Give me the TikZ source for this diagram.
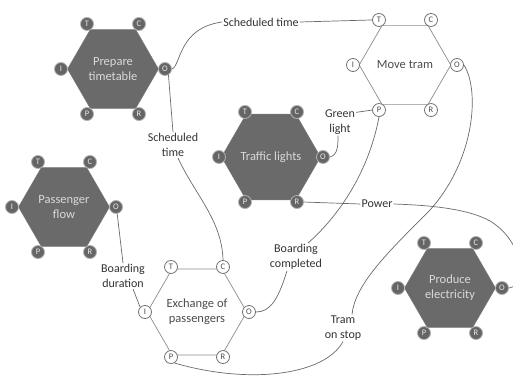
\documentclass[tikz,border=0pt]{standalone}
\usepackage{fontspec}
\setmainfont{Carlito}
\usetikzlibrary{shapes.geometric,calc}

\definecolor{hexdark}{HTML}{6A6A6A}
\definecolor{hexline}{HTML}{8C8C8C}
\definecolor{wireclr}{HTML}{6A6A6A}
\definecolor{labelclr}{HTML}{333333}

\tikzset{
  fnbox/.style={regular polygon, regular polygon sides=6, minimum size=91pt,
    inner sep=0pt, align=center, font=\fontsize{12.5}{15}\selectfont},
  darkhex/.style={fnbox, fill=hexdark, draw=hexdark!90!white, text=white!85!black},
  lighthex/.style={fnbox, fill=white, draw=hexline, line width=0.7pt, text=black!70},
  aspbox/.style={circle, minimum size=13pt, inner sep=0pt, line width=0.8pt,
    font=\fontsize{8.5}{9}\selectfont},
  darkasp/.style={aspbox, fill=hexdark!95!black, draw=white!70!black, text=white!92!black},
  lightasp/.style={aspbox, fill=white, draw=black!55, text=black!70},
  wire/.style={draw=wireclr, line width=0.7pt},
  flowlabel/.style={align=center, inner sep=1pt, text=labelclr,
    font=\fontsize{12}{15}\selectfont}
}

% A FRAM function: hexagon with its six aspects T, C, O, R, P, I
\newcommand\framfn[4]{%
  \node[#2hex] (#1) at (#3) {#4};
  \foreach \asp/\ang in {O/0,R/60,P/120,I/180,T/240,C/300}
    \node[#2asp] (#1-\asp) at ($(#1)+(\ang:52)$) {\asp};
}

\begin{document}
\begin{tikzpicture}[x=1pt,y=-1pt]
  \useasboundingbox (0,0) rectangle (513,377);
  \clip (0,0) rectangle (513,377);
  \fill[white] (0,0) rectangle (513,377);

  % functions
  \framfn{pt}{dark}{113,69}{Prepare\\timetable}
  \framfn{mt}{light}{405,65}{Move tram}
  \framfn{tl}{dark}{271,157}{Traffic lights}
  \framfn{pf}{dark}{64,207}{Passenger\\flow}
  \framfn{ep}{light}{197,312}{Exchange of\\passengers}
  \framfn{pe}{dark}{450,288}{Produce\\electricity}

  % couplings labels
  \node[flowlabel] (st1) at (261,22) {Scheduled time};
  \node[flowlabel] (st2) at (173,145) {Scheduled\\time};
  \node[flowlabel] (gl) at (340,122) {Green\\light};
  \node[flowlabel] (bc) at (296,257) {Boarding\\completed};
  \node[flowlabel] (bd) at (123,276) {Boarding\\duration};
  \node[flowlabel] (tos) at (343,328) {Tram\\on stop};
  \node[flowlabel] (pw) at (377,204) {Power};

  % Prepare timetable -> Move tram (T)
  \draw[wire] (pt-O.east) .. controls (181,66) and (178,28) .. (st1.west);
  \draw[wire] (st1.east) -- (mt-T.west);

  % Prepare timetable -> Exchange of passengers (C)
  \draw[wire] (pt-O.-60) -- (st2.north);
  \draw[wire] ([xshift=5pt]st2.south) .. controls (195,195) and (222,220) .. (ep-C.north);

  % Traffic lights -> Move tram (P)
  \draw[wire] (tl-O.east) .. controls (338,155) and (338,145) .. ([xshift=-2pt]gl.south);
  \draw[wire] ([yshift=-4pt]gl.north east) -- (mt-P.west);

  % Exchange of passengers -> Move tram (P)
  \draw[wire] (mt-P.south) .. controls (370,165) and (345,210) .. ([xshift=12pt]bc.north);
  \draw[wire] ([xshift=-9pt]bc.south) .. controls (278,300) and (270,312) .. (ep-O.east);

  % Move tram -> Exchange of passengers (P)
  \draw[wire] (mt-O.east) .. controls (480,90) and (475,160) .. (430,210)
    .. controls (385,255) and (355,285) .. ([xshift=9pt]tos.north);
  \draw[wire] (tos.south) .. controls (325,375) and (250,385) .. (ep-P.-60);

  % Passenger flow -> Exchange of passengers (I)
  \draw[wire] (pf-O.-80) -- (bd.north);
  \draw[wire] ([xshift=10pt]bd.south) -- (ep-I.north west);

  % Produce electricity -> Traffic lights (R)
  \draw[wire] (pe-O.east) .. controls (530,285) and (522,240) .. (490,221)
    .. controls (465,207) and (420,205) .. (pw.east);
  \draw[wire] (pw.west) -- (tl-R.east);
\end{tikzpicture}
\end{document}
